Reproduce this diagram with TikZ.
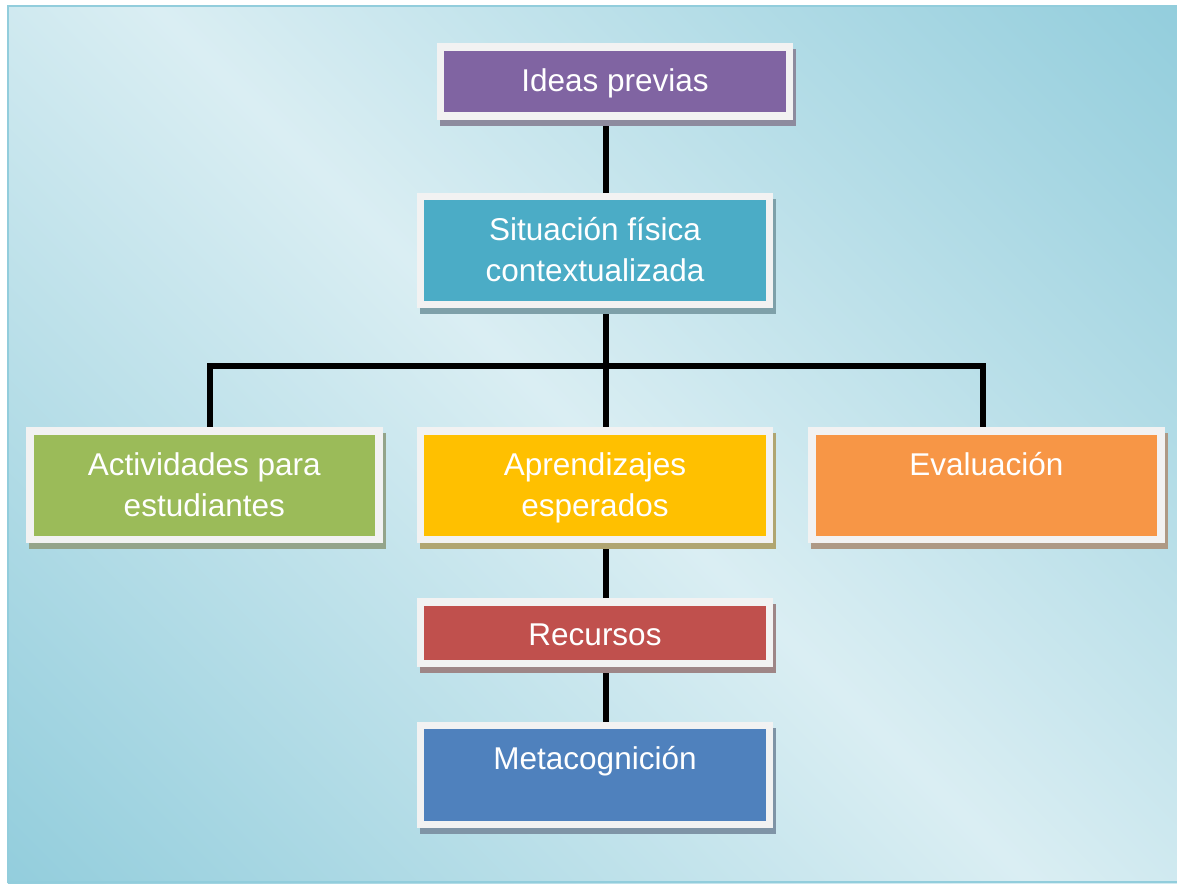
\documentclass[tikz,border=0pt]{standalone}
\usepackage{fontspec}
\setmainfont{Liberation Sans}
\usetikzlibrary{calc}
\definecolor{bgdark}{HTML}{92CDDC}
\definecolor{bglight}{HTML}{DAEEF3}
\definecolor{bgmid}{HTML}{C0E2EA}
\definecolor{framew}{HTML}{F2F2F2}
\definecolor{cpurple}{HTML}{8064A2}
\definecolor{cteal}{HTML}{4BACC6}
\definecolor{cgreen}{HTML}{9BBB59}
\definecolor{cyellow}{HTML}{FFC000}
\definecolor{corange}{HTML}{F79646}
\definecolor{cred}{HTML}{C0504D}
\definecolor{cblue}{HTML}{4F81BD}
\pgfdeclarehorizontalshading{bgshade}{100bp}{color(0bp)=(bgdark); color(14bp)=(bgdark); color(50bp)=(bglight); color(86bp)=(bgdark); color(100bp)=(bgdark)}
\pgfdeclarelayer{bg}
\pgfdeclarelayer{lines}
\pgfsetlayers{bg,lines,main}
\begin{document}
\begin{tikzpicture}[x=1pt,y=-1pt,
  cbox/.style={draw=framew, line width=7.6pt, fill=#1, inner sep=0pt, minimum width=349pt,
     preaction={draw=#1!35!gray!80!bgmid, fill=#1!35!gray!80!bgmid, line width=7.6pt,
                transform canvas={xshift=3pt,yshift=-6pt}}},
  txt/.style={text=white, inner sep=0pt, anchor=base, font=\fontsize{31.5}{41}\selectfont},
  conn/.style={line width=6.5pt}]
\path[use as bounding box] (0,0) rectangle (1177,883);
% boxes
\node[cbox=cpurple, minimum height=69.1pt] (ideas) at (615,81.7) {};
\node[cbox=cteal, minimum height=108pt] (sit) at (595,250.5) {};
\node[cbox=cgreen, minimum height=108.4pt] (act) at (204.3,485.3) {};
\node[cbox=cyellow, minimum height=108.4pt] (apr) at (595,485.3) {};
\node[cbox=corange, minimum height=108.4pt] (eva) at (986.3,485.3) {};
\node[cbox=cred, minimum height=61.4pt] (rec) at (595,632.8) {};
\node[cbox=cblue, minimum height=99pt] (meta) at (595,775) {};
% texts
\node[txt] (t1) at (615,91) {Ideas previas};
\node[txt] (t2) at (595,240) {\begin{tabular}[t]{@{}c@{}}Situación física\\contextualizada\end{tabular}};
\node[txt] (t3) at (204.3,475) {\begin{tabular}[t]{@{}c@{}}Actividades para\\estudiantes\end{tabular}};
\node[txt] (t4) at (595,475) {\begin{tabular}[t]{@{}c@{}}Aprendizajes\\esperados\end{tabular}};
\node[txt] (t5) at (986.3,475) {Evaluación};
\node[txt] (t6) at (595,645) {Recursos};
\node[txt] (t7) at (595,769.3) {Metacognición};
% connectors
\coordinate (sx) at (606,0);
\coordinate (bl) at (210,366);
\coordinate (br) at (983,366);
\begin{pgfonlayer}{lines}
\draw[conn] (ideas.south -| sx) -- (sit.north -| sx);
\draw[conn] (sit.south -| sx) -- (apr.north -| sx);
\draw[conn] (act.north -| bl) -- (bl) -- (br) -- (eva.north -| br);
\draw[conn] (apr.south -| sx) -- (rec.north -| sx);
\draw[conn] (rec.south -| sx) -- (meta.north -| sx);
\end{pgfonlayer}
% background
\begin{pgfonlayer}{bg}
\fill[white] (0,0) rectangle (1177,883);
\shade[shading=bgshade, shading angle=45] (7.8,6) rectangle (1177,883);
\draw[bgdark, line width=2pt] (7.8,6) rectangle (1178,882);
\end{pgfonlayer}
\end{tikzpicture}
\end{document}
